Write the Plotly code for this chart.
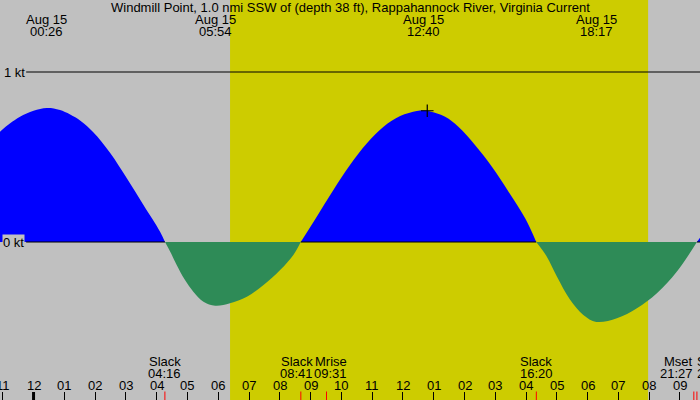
# %% Tidal current chart: Windmill Point, Rappahannock River
import plotly.graph_objects as go

# %% Data (hours from midnight Aug 15, knots)

flow_hours = [
    -1.09, -0.76, -0.44, 0.00, 0.43, 0.86, 1.51, 1.94, 2.49, 3.03, 3.57, 4.11,
    4.27, 4.44, 4.65, 4.92, 5.19, 5.52, 5.90, 6.38, 6.93, 7.47, 8.01, 8.44,
    8.68, 9.20, 9.74, 10.28, 10.83, 11.37, 11.91, 12.45, 12.67, 12.83, 13.37,
    13.80, 14.34, 14.89, 15.43, 15.97, 16.33, 16.67, 17.00, 17.43, 17.86,
    18.28, 18.95, 19.60, 20.25, 20.90, 21.55, 21.65,
]
flow_knots = [
    0.649, 0.698, 0.737, 0.772, 0.788, 0.776, 0.715, 0.646, 0.524, 0.375, 0.218, 0.061,
    0.0, -0.057, -0.135, -0.224, -0.292, -0.351, -0.375, -0.361, -0.322, -0.253, -0.165, -0.076,
    0.0, 0.149, 0.306, 0.453, 0.581, 0.678, 0.741, 0.771, 0.774, 0.771, 0.737,
    0.678, 0.571, 0.443, 0.296, 0.139, 0.0, -0.085, -0.203, -0.340, -0.429,
    -0.470, -0.448, -0.389, -0.301, -0.174, 0.0, 0.025,
]

# max flood / max ebb labels along the top
peak_hours = [0.433, 5.900, 12.667, 18.283]
peak_dates = ["Aug 15", "Aug 15", "Aug 15", "Aug 15"]
peak_times = ["00:26", "05:54", "12:40", "18:17"]

# events along the bottom
event_hours = [4.267, 8.683, 9.517, 16.333, 21.450, 21.550]
event_names = ["Slack", "Slack", "Mrise", "Slack", "Mset", "Slack"]
event_times = ["04:16", "08:41", "09:31", "16:20", "21:27", "21:33"]

# hour ticks
hour_ticks = list(range(-1, 22))
hour_labels = ["11", "12", "01", "02", "03", "04", "05", "06", "07", "08", "09", "10",
               "11", "12", "01", "02", "03", "04", "05", "06", "07", "08", "09"]

sunrise_h = 6.383
sunset_h = 19.965
mark_hour = 12.79
mark_knots = 0.772

title_text = "Windmill Point, 1.0 nmi SSW of (depth 38 ft), Rappahannock River, Virginia Current"

# %% Style

x_range = [-1.09, 21.65]
y_range = [-0.9294, 1.4235]
W, H = 700, 400
bg_gray = "#c0c0c0"
day_yellow = "#cdcc00"
flood_blue = "#0000ff"
ebb_green = "#2e8b57"
font = dict(family="Liberation Sans, Arial, sans-serif", size=13, color="black")
label_gap_h = 0.85  # room for the "0 kt" / "1 kt" labels on the left


def py(px):
    return 1 - px / H


# %% Split into flood / ebb lobes at the slack points

lobes = []
cur_x, cur_y = [], []
for h, v in zip(flow_hours, flow_knots):
    cur_x.append(h)
    cur_y.append(v)
    if v == 0 and len(cur_x) > 1:
        lobes.append((cur_x, cur_y))
        cur_x, cur_y = [h], [v]
if len(cur_x) > 1:
    lobes.append((cur_x, cur_y))

fig = go.Figure()

for lx, ly in lobes:
    if max(ly) > 0:
        fig.add_trace(go.Scatter(
            x=lx, y=ly, mode="lines", fill="tozeroy",
            line=dict(width=0, shape="spline", color=flood_blue),
            fillcolor=flood_blue, hoverinfo="skip", showlegend=False,
        ))

# zero line, only visible over flood and background
zx, zy = [], []
for lx, ly in lobes:
    if max(ly) > 0:
        zx += [max(lx[0], x_range[0] + label_gap_h), lx[-1], None]
        zy += [0, 0, None]
fig.add_trace(go.Scatter(
    x=zx, y=zy, mode="lines", line=dict(color="black", width=1),
    hoverinfo="skip", showlegend=False,
))

for lx, ly in lobes:
    if min(ly) < 0:
        fig.add_trace(go.Scatter(
            x=lx, y=ly, mode="lines", fill="tozeroy",
            line=dict(width=0, shape="spline", color=ebb_green),
            fillcolor=ebb_green, hoverinfo="skip", showlegend=False,
        ))

fig.add_trace(go.Scatter(
    x=[mark_hour], y=[mark_knots], mode="markers",
    marker=dict(symbol="cross-thin", size=9, line=dict(color="black", width=1.2)),
    hoverinfo="skip", showlegend=False,
))

# %% Shapes

shapes = [
    dict(type="rect", xref="x", yref="paper", x0=sunrise_h, x1=sunset_h, y0=0, y1=1,
         fillcolor=day_yellow, line=dict(width=0), layer="below"),
    dict(type="line", xref="x", yref="y", x0=x_range[0] + label_gap_h, x1=x_range[1],
         y0=1, y1=1, line=dict(color="black", width=1)),
    dict(type="line", xref="x", yref="paper", x0=0, x1=0, y0=0, y1=8 / H,
         line=dict(color="black", width=3)),
]
for eh in event_hours:
    shapes.append(dict(type="line", xref="x", yref="paper", x0=eh, x1=eh,
                       y0=0, y1=8.5 / H, line=dict(color="red", width=1)))

# %% Annotations

ann = [
    dict(text=title_text, xref="paper", yref="paper", x=0.5, y=py(7.5)),
    dict(text="1 kt", xref="paper", yref="y", x=0, y=1, xanchor="left", xshift=2),
    dict(text="0 kt", xref="paper", yref="y", x=0, y=0, xanchor="left", xshift=2,
         bgcolor=bg_gray, borderpad=0),
]
for ph, pd_, pt in zip(peak_hours, peak_dates, peak_times):
    ann.append(dict(text=pd_, xref="x", yref="paper", x=ph, y=py(19.5)))
    ann.append(dict(text=pt, xref="x", yref="paper", x=ph, y=py(31.7)))

event_shift = [0, -4, 4, 0, 1, -2]
event_anchor = ["center", "center", "center", "center", "right", "left"]
for eh, en, et, sh, an in zip(event_hours, event_names, event_times, event_shift, event_anchor):
    ann.append(dict(text=en, xref="x", yref="paper", x=eh, y=py(361.7), xshift=sh, xanchor=an))
    ann.append(dict(text=et, xref="x", yref="paper", x=eh, y=py(373.3), xshift=sh, xanchor=an))

for hv, hl in zip(hour_ticks, hour_labels):
    ann.append(dict(text=hl, xref="x", yref="paper", x=hv, y=py(385.2)))

for a in ann:
    a.setdefault("xanchor", "center")
    a["yanchor"] = "middle"
    a["showarrow"] = False
    a["font"] = font

fig.update_layout(
    width=W, height=H,
    margin=dict(l=0, r=0, t=0, b=0),
    paper_bgcolor=bg_gray,
    plot_bgcolor=bg_gray,
    xaxis=dict(range=x_range, showgrid=False, zeroline=False, showline=False,
               tickmode="array", tickvals=hour_ticks, showticklabels=False,
               ticks="inside", ticklen=8, tickwidth=1, tickcolor="black", fixedrange=True),
    yaxis=dict(range=y_range, showgrid=False, zeroline=False, showline=False,
               showticklabels=False, fixedrange=True),
    shapes=shapes,
    annotations=ann,
    showlegend=False,
)

# the page's default body margin would push the chart off the window edge
fig.write_html("out.html", config={"displayModeBar": False},
               post_script="document.body.style.margin='0px';")
